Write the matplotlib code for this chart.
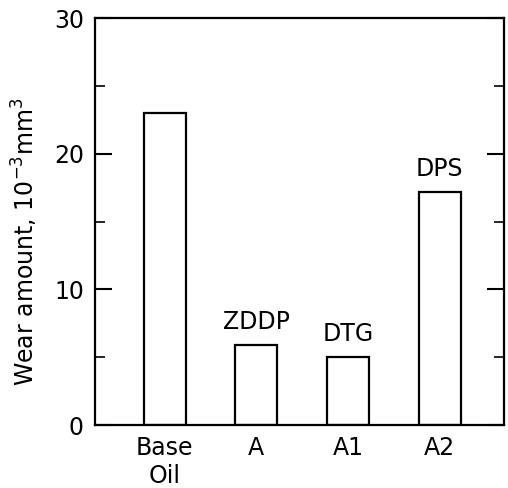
import matplotlib.pyplot as plt
import numpy as np

# wear amount per oil sample (10^-3 mm^3)
samples = ['Base\nOil', 'A', 'A1', 'A2']
wear = [23.0, 5.9, 5.0, 17.2]
additives = ['', 'ZDDP', 'DTG', 'DPS']

plt.rcParams['font.family'] = 'DejaVu Sans'
plt.rcParams['font.size'] = 17

fig = plt.figure(figsize=(5.08, 4.88), dpi=100)
ax = fig.add_axes([0.187, 0.129, 0.805, 0.834])

x = np.arange(len(samples))
ax.bar(x, wear, width=0.46, color='white', edgecolor='black', linewidth=1.6)

# additive name over each bar
for xi, w, name in zip(x, wear, additives):
    if name:
        ax.text(xi, w + 0.8, name, ha='center', va='bottom')

ax.set_xlim(-0.76, 3.70)
ax.set_ylim(0, 30)
ax.set_xticks(x)
ax.set_xticklabels(samples, linespacing=1.2)
ax.set_yticks([0, 10, 20, 30])
ax.set_yticks([5, 15, 25], minor=True)

ax.tick_params(axis='x', length=0, pad=8)
ax.tick_params(axis='y', which='major', direction='in', length=12, width=1.5,
               right=True, pad=8)
ax.tick_params(axis='y', which='minor', direction='in', length=7, width=1.2,
               right=True)

for s in ax.spines.values():
    s.set_linewidth(1.6)

ax.set_ylabel('Wear amount, 10$^{-3}$mm$^3$')
ax.yaxis.set_label_coords(-0.135, 0.45)

fig.savefig('out.png', dpi=100)
